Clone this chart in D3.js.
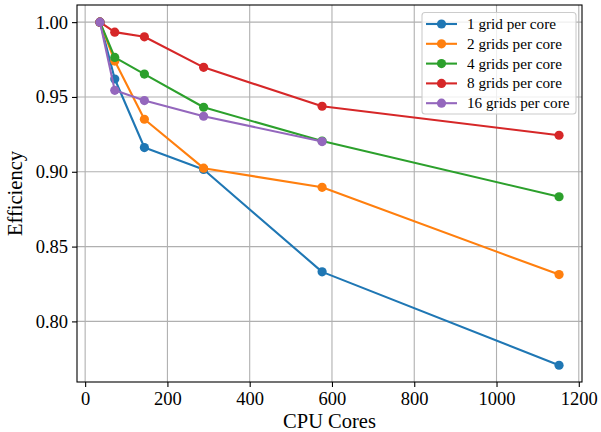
<!DOCTYPE html>
<html>
<head>
<meta charset="utf-8">
<script src="https://cdn.jsdelivr.net/npm/d3@7"></script>
<style>
  body { margin: 0; background: #fff; }
  svg { display: block; }
  text { font-family: "Liberation Serif", "DejaVu Serif", serif; fill: #000; }
</style>
</head>
<body>
<div id="app"></div>
<script>
const width = 601,
    height = 432;

const cores = [36, 72, 144, 288, 576, 1152];

const oneGrid = [1.0, 0.962, 0.9162, 0.9015, 0.8331, 0.7707];
const twoGrids = [1.0, 0.974, 0.9351, 0.9024, 0.8896, 0.8313];
const fourGrids = [1.0, 0.9764, 0.9653, 0.9431, 0.9205, 0.8833];
const eightGrids = [1.0, 0.9933, 0.9902, 0.9698, 0.9438, 0.9244];
const sixteenGrids = [1.0, 0.9544, 0.9476, 0.9371, 0.9202];

const seriesNames = ["1 grid per core", "2 grids per core", "4 grids per core", "8 grids per core", "16 grids per core"];
const seriesValues = [oneGrid, twoGrids, fourGrids, eightGrids, sixteenGrids];
const colors = ["#1f77b4", "#ff7f0e", "#2ca02c", "#d62728", "#9467bd"];

const xTicks = [0, 200, 400, 600, 800, 1000, 1200];
const yTicks = [0.80, 0.85, 0.90, 0.95, 1.00];

const plot = {left: 77, right: 582, top: 5, bottom: 382};

const x = d3.scaleLinear().domain([-19.8, 1207.8]).range([plot.left, plot.right]);
const y = d3.scaleLinear().domain([0.7595, 1.01145]).range([plot.bottom, plot.top]);

const svg = d3.select("#app")
    .append("svg")
    .attr("width", width)
    .attr("height", height);

// grid
svg.append("g").selectAll("line")
    .data(xTicks).enter()
    .append("line")
    .attr("x1", d => x(d)).attr("x2", d => x(d))
    .attr("y1", plot.top).attr("y2", plot.bottom)
    .attr("stroke", "#b0b0b0").attr("stroke-width", 1.1);

svg.append("g").selectAll("line")
    .data(yTicks).enter()
    .append("line")
    .attr("y1", d => y(d)).attr("y2", d => y(d))
    .attr("x1", plot.left).attr("x2", plot.right)
    .attr("stroke", "#b0b0b0").attr("stroke-width", 1.1);

//Create X-Axis
const xAxis = svg.append("g")
    .attr("transform", `translate(0, ${plot.bottom})`)
    .call(d3.axisBottom(x).tickValues(xTicks).tickFormat(d3.format("d")).tickSize(5).tickPadding(4));

//Create Y-Axis
const yAxis = svg.append("g")
    .attr("transform", `translate(${plot.left}, 0)`)
    .call(d3.axisLeft(y).tickValues(yTicks).tickFormat(d3.format(".2f")).tickSize(5).tickPadding(4));

[xAxis, yAxis].forEach(a => {
    a.select(".domain").remove();
    a.selectAll(".tick line").attr("stroke", "#000").attr("stroke-width", 1.1);
    a.selectAll(".tick text").style("font-size", "18.5px").attr("font-family", null);
});
xAxis.selectAll(".tick text").attr("dy", "0.78em");

// series
const line = d3.line()
    .x((d, i) => x(cores[i]))
    .y(d => y(d));

seriesValues.forEach((vals, k) => {
    const g = svg.append("g");
    g.append("path")
        .datum(vals)
        .attr("d", line)
        .attr("fill", "none")
        .attr("stroke", colors[k])
        .attr("stroke-width", 2.1)
        .attr("stroke-linejoin", "round");
    g.selectAll("circle")
        .data(vals).enter()
        .append("circle")
        .attr("cx", (d, i) => x(cores[i]))
        .attr("cy", d => y(d))
        .attr("r", 4.6)
        .attr("fill", colors[k]);
});

// frame
svg.append("rect")
    .attr("x", plot.left).attr("y", plot.top)
    .attr("width", plot.right - plot.left).attr("height", plot.bottom - plot.top)
    .attr("fill", "none").attr("stroke", "#000").attr("stroke-width", 1.1);

// legend
const legend = svg.append("g");
legend.append("rect")
    .attr("x", 422).attr("y", 12.5)
    .attr("width", 154).attr("height", 101.5)
    .attr("rx", 3)
    .attr("fill", "#fff").attr("fill-opacity", 0.8)
    .attr("stroke", "#cccccc").attr("stroke-width", 1.1);

const item = legend.selectAll("g.item")
    .data(seriesNames).enter()
    .append("g")
    .attr("transform", (d, i) => `translate(0, ${24 + i * 19.8})`);
item.append("line")
    .attr("x1", 426).attr("x2", 457)
    .attr("stroke", (d, i) => colors[i]).attr("stroke-width", 2.1);
item.append("circle")
    .attr("cx", 441.5).attr("r", 4.6)
    .attr("fill", (d, i) => colors[i]);
item.append("text")
    .attr("x", 467).attr("dy", "0.33em")
    .style("font-size", "15.2px")
    .text(d => d);

// labels
svg.append("text")
    .attr("x", (plot.left + plot.right) / 2)
    .attr("y", 428)
    .attr("text-anchor", "middle")
    .style("font-size", "20.5px")
    .text("CPU Cores");

svg.append("text")
    .attr("transform", `translate(22, ${(plot.top + plot.bottom) / 2}) rotate(-90)`)
    .attr("text-anchor", "middle")
    .style("font-size", "20.5px")
    .text("Efficiency");
</script>
</body>
</html>
